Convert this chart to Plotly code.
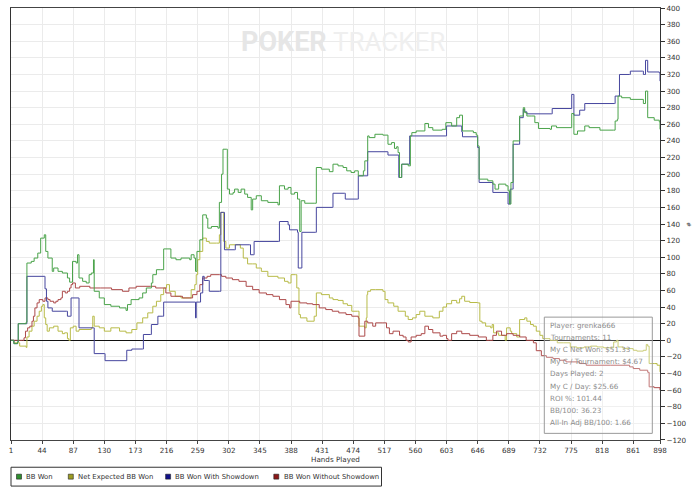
import plotly.graph_objects as go

# ---------------- data ----------------
x_ticks = [1, 44, 87, 130, 173, 216, 259, 302, 345, 388, 431, 474, 517, 560, 603,
           646, 689, 732, 775, 818, 861, 898]

green_h = [1, 5, 10, 11, 17, 22, 23, 29, 33, 38, 42, 47, 49, 52, 58, 60, 66, 72, 79, 82,
           86, 91, 93, 95, 100, 105, 109, 112, 115, 116, 123, 130, 139, 151, 160, 162, 167,
           178, 183, 188, 195, 197, 202, 208, 212, 218, 222, 229, 236, 248, 250, 254, 256,
           258, 262, 266, 271, 273, 278, 287, 289, 292, 294, 299, 300, 303, 308, 310, 315,
           319, 324, 328, 333, 335, 340, 347, 356, 370, 372, 379, 384, 388, 393, 397, 400,
           402, 407, 420, 423, 430, 441, 446, 453, 460, 465, 471, 476, 481, 488, 490, 494,
           496, 504, 515, 522, 527, 531, 534, 536, 538, 541, 550, 553, 555, 561, 573, 578,
           584, 597, 602, 610, 617, 621, 625, 640, 644, 646, 648, 660, 667, 670, 675, 685,
           688, 690, 692, 695, 702, 704, 709, 711, 714, 720, 725, 730, 746, 748, 755, 775,
           776, 779, 784, 794, 800, 815, 834, 836, 839, 840, 845, 857, 875, 878, 881, 890,
           897, 898]
green_v = [0, -4, -2, 20, 20, 22, 93, 95, 99, 105, 123, 127, 107, 99, 83, 87, 83, 81, 75, 70,
           95, 93, 103, 75, 71, 69, 79, 81, 97, 59, 51, 43, 41, 39, 36, 43, 49,
           51, 57, 63, 69, 79, 85, 85, 110, 110, 99, 97, 99, 97, 103, 99, 83,
           107, 121, 151, 147, 135, 137, 135, 166, 200, 230, 230, 182, 176, 178, 182, 178,
           182, 176, 172, 157, 170, 174, 168, 166, 163, 186, 182, 184, 176, 178, 170, 131,
           168, 165, 165, 208, 206, 203, 212, 210, 208, 204, 202, 204, 198, 204, 216, 246,
           244, 248, 247, 236, 238, 231, 233, 226, 196, 212, 210, 246, 250, 252, 261, 256,
           253, 254, 262, 258, 268, 271, 252, 250, 247, 234, 194, 192, 188, 182, 188, 186,
           180, 164, 190, 240, 240, 270, 280, 274, 270, 270, 262, 255, 254, 258, 256, 256,
           273, 248, 252, 258, 256, 253, 253, 264, 266, 294, 292, 290, 285, 300, 268, 265,
           263, 254]

yellow_h = [1, 5, 10, 13, 22, 23, 26, 30, 33, 37, 40, 43, 45, 47, 49, 51, 54, 60, 66, 72, 75,
            79, 81, 83, 87, 91, 95, 112, 114, 116, 123, 130, 139, 151, 160, 168, 175, 183,
            190, 197, 202, 208, 212, 216, 220, 228, 236, 248, 250, 255, 257, 259, 262, 266,
            271, 275, 285, 289, 291, 293, 295, 298, 303, 315, 318, 322, 328, 335, 340, 347,
            356, 370, 379, 384, 388, 394, 396, 399, 401, 410, 420, 423, 430, 441, 446, 453,
            460, 466, 472, 480, 482, 490, 492, 493, 494, 498, 505, 515, 518, 522, 530, 536,
            540, 546, 550, 556, 561, 566, 573, 584, 593, 598, 603, 610, 617, 621, 624, 628,
            635, 646, 649, 652, 657, 664, 666, 668, 675, 681, 684, 686, 691, 693, 700, 703,
            704, 711, 714, 719, 723, 727, 732, 736, 746, 756, 765, 774, 783, 793, 802, 811,
            820, 834, 838, 840, 847, 861, 866, 875, 879, 881, 883, 890, 894, 898]
yellow_v = [0, -3, -3, -7, -8.6, 4, 11, 17, 23, 29, 35, 41, 43, 27, 19, 11, 15, 17, 11, 8, 9,
            2, 0, 15, 17, 11, 13, 15, 29, 17, 15, 11, 15, 11, 9, 13, 21, 27,
            33, 41, 47, 55, 63, 67, 59, 53, 51, 51, 61, 67, 79, 97, 107, 123,
            119, 117, 117, 127, 154, 154, 119, 111, 115, 115, 111, 99, 92, 92, 87, 83,
            77, 75, 71, 69, 79, 79, 63, 31, 27, 23, 29, 57, 55, 51, 49, 48,
            44, 42, 35, 35, 17, 15, 27, 55, 59, 61, 61, 59, 49, 45, 41, 35,
            35, 29, 25, 27, 31, 35, 29, 27, 35, 40, 44, 48, 45, 50, 53, 47,
            45.5, 45, 23, 21, 17, 15, 19, 9, 6, 6, 0, 15, 11, 8, 4, 4,
            25, 27, 23, 19, 17, 11, 6, 2, 0, -3, -3, -8, -9, -8, -7, -8,
            -9, -2, 0, -8, -10, -12, -13, -12, -5, -7, -28, -28, -30, -38]

blue_h = [1, 5, 10, 11, 22, 23, 47, 48, 50, 52, 57, 58, 78, 79, 83, 84, 94, 95, 115, 116, 130,
          131, 160, 161, 168, 183, 184, 194, 195, 203, 204, 210, 212, 254, 256, 257, 262, 263,
          265, 266, 268, 274, 275, 289, 291, 295, 296, 310, 311, 331, 332, 336, 337, 371, 372,
          384, 386, 397, 398, 402, 403, 422, 423, 445, 446, 462, 463, 480, 481, 493, 494, 521,
          522, 536, 537, 540, 541, 551, 552, 602, 603, 623, 624, 625, 645, 646, 648, 666, 667,
          687, 688, 690, 691, 694, 695, 702, 704, 709, 711, 714, 748, 749, 775, 776, 778, 779,
          786, 787, 793, 794, 835, 836, 841, 842, 856, 857, 874, 875, 877, 878, 880, 881, 897,
          898]
blue_v = [0, -4, -2, 20, 20, 77, 77, 62, 47, 39, 39, 35, 35, 29, 29, 51, 51, 15, 15, -16, -16,
          -24.5, -24.5, -12, -10.5, -10.5, 7, 7, 19, 19, 29, 29, 46, 46, 27, 46, 46, 57,
          57, 77, 72, 72, 59, 59, 154, 154, 109, 109, 115, 115, 103, 103, 119, 119, 143,
          139, 133, 130, 87, 87, 130, 130, 160, 160, 177, 177, 170, 170, 198, 198, 227, 227,
          223, 223, 196, 196, 212, 212, 246, 246, 258, 258, 251, 245, 245, 232, 190, 190, 178,
          178, 164, 164, 182, 182, 236, 236, 268, 278, 275, 272.6, 272.6, 279, 279, 296, 296, 271,
          271, 277, 277, 285, 285, 294, 294, 320, 320, 324, 324, 320, 320, 337, 337, 323, 322,
          312]

red_h = [1, 17, 19, 21, 24, 27, 30, 32, 34, 37, 40, 45, 48, 52, 55, 60, 63, 66, 70, 72, 76, 79,
         82, 84, 86, 90, 96, 110, 125, 140, 155, 164, 174, 194, 201, 215, 222, 238, 247, 252,
         258, 262, 266, 272, 277, 289, 292, 298, 307, 316, 326, 335, 344, 354, 363, 372, 381,
         386, 388, 400, 410, 418, 427, 436, 445, 454, 464, 472, 481, 482, 489, 490, 494, 501,
         505, 515, 520, 524, 529, 538, 543, 547, 550, 554, 561, 568, 573, 578, 584, 594, 598,
         603, 605, 610, 617, 624, 635, 647, 658, 662, 667, 672, 679, 686, 695, 704, 713, 723,
         727, 734, 741, 750, 759, 768, 787, 796, 830, 856, 861, 870, 881, 883, 890, 898]
red_v = [0, 0, 3, 11, 15, 17, 23, 29, 39, 45, 49, 47, 51, 49, 47, 45, 47, 49, 51, 59, 57, 59,
         63, 67, 69, 63, 65, 63, 63, 61, 59, 63, 65, 65, 63, 57, 53, 51, 51, 55,
         59, 67, 75, 77, 79, 79, 77, 75, 73, 71, 65, 61, 57, 55, 53, 49, 43,
         39, 47, 45, 44, 43, 39, 37, 35, 33, 31, 29, 27, 5, 5, 23, 21, 17,
         21, 21, 15, 8, 11, 6, 4, 0, -2, 4, 6, 8, 17, 13, 9, 5, 6,
         2, 0, 8, 11, 8, 6, 4, 0, 0, 6, 11, 6, 8, 6, 4, 0, -3,
         -12.5, -18.5, -20.5, -22, -24, -26, -28, -30, -30, -32, -34, -36, -38.5, -56, -57, -60]

series_names = ["BB Won", "Net Expected BB Won", "BB Won With Showdown", "BB Won Without Showdown"]
line_colors = ["#4aa34a", "#b8bb48", "#46469e", "#ad4a4a"]
swatch_colors = ["#2f8f2f", "#9c9c22", "#10108a", "#8c1818"]

stats_lines = ["Player: grenka666", "Tournaments: 11", "My C Net Won: $51.33",
               "My C / Tournament: $4.67", "Days Played: 2", "My C / Day: $25.66",
               "ROI %: 101.44", "BB/100: 36.23", "All-In Adj BB/100: 1.66"]

y_range = [-120, 400]

# ---------------- geometry helpers ----------------
W, H = 700, 491
PL, PR, PT, PB = 11, 660, 4, 440


def px2x(px):
    return (px - PL) / (PR - PL)


def py2y(py):
    return (PB - py) / (PB - PT)


fig = go.Figure()

traces = [
    (yellow_h, yellow_v, line_colors[1]),
    (red_h, red_v, line_colors[3]),
    (blue_h, blue_v, line_colors[2]),
    (green_h, green_v, line_colors[0]),
]
for h, v, c in traces:
    fig.add_trace(go.Scatter(x=h, y=v, mode="lines",
                             line=dict(color=c, width=1, shape="hv"),
                             showlegend=False, hoverinfo="skip"))

small_font = dict(family="DejaVu Sans, Verdana, sans-serif", size=7.2, color="#333333")
legend_font = dict(family="DejaVu Sans, Verdana, sans-serif", size=6.9, color="#333333")

fig.update_layout(
    width=W, height=H,
    margin=dict(l=PL, r=W - PR, t=PT, b=H - PB, pad=0),
    paper_bgcolor="white", plot_bgcolor="white",
    showlegend=False,
    xaxis=dict(range=[1, 898], tickmode="array", tickvals=x_ticks,
               ticktext=[str(t) for t in x_ticks],
               showgrid=True, gridcolor="#ebebeb", gridwidth=1,
               showline=True, linecolor="#444444", linewidth=1, mirror=True,
               ticks="outside", ticklen=3, tickcolor="#444444",
               tickfont=small_font, zeroline=False),
    yaxis=dict(range=[y_range[0] - 0.01, y_range[1] + 0.01], side="right",
               tickmode="array", tickvals=list(range(y_range[0], y_range[1] + 1, 20)),
               showgrid=True, gridcolor="#ebebeb", gridwidth=1,
               showline=True, linecolor="#333333", linewidth=1, mirror=True,
               ticks="outside", ticklen=4, tickcolor="#333333",
               tickfont=small_font, ticklabeloverflow="allow",
               zeroline=True, zerolinecolor="#111111", zerolinewidth=1),
)

annotations = []
shapes = []

# watermark
annotations.append(dict(xref="paper", yref="paper", x=px2x(329), y=py2y(38),
                        xanchor="right", yanchor="middle", showarrow=False,
                        text="<b>POKER</b>",
                        font=dict(family="Roboto, Liberation Sans, sans-serif",
                                  size=27, color="#e6e6e6")))
annotations.append(dict(xref="paper", yref="paper", x=px2x(331), y=py2y(38),
                        xanchor="left", yanchor="middle", showarrow=False,
                        text="TRACKER",
                        font=dict(family="Roboto, Liberation Sans, sans-serif",
                                  size=26, color="#efefef")))

# axis titles
annotations.append(dict(xref="paper", yref="paper", x=px2x(335.5), y=py2y(460),
                        xanchor="center", yanchor="middle", showarrow=False,
                        text="Hands Played", font=small_font))
annotations.append(dict(xref="paper", yref="paper", x=px2x(689), y=py2y(223),
                        xanchor="center", yanchor="middle", showarrow=False,
                        text="#", textangle=-90,
                        font=dict(family="DejaVu Sans, sans-serif", size=6, color="#333333")))

# legend box
shapes.append(dict(type="rect", xref="paper", yref="paper",
                   x0=px2x(11), x1=px2x(381.5), y0=py2y(486.5), y1=py2y(467.5),
                   line=dict(color="#333333", width=1), fillcolor="rgba(0,0,0,0)"))
sw_x = [16.5, 68.3, 165.6, 273.8]
tx_x = [24, 75.7, 172.7, 281.5]
for i, name in enumerate(series_names):
    shapes.append(dict(type="rect", xref="paper", yref="paper",
                       x0=px2x(sw_x[i]), x1=px2x(sw_x[i] + 5), y0=py2y(479.5), y1=py2y(474.5),
                       line=dict(color="#222222", width=0.6), fillcolor=swatch_colors[i]))
    annotations.append(dict(xref="paper", yref="paper", x=px2x(tx_x[i]), y=py2y(477),
                            xanchor="left", yanchor="middle", showarrow=False,
                            text=name, font=legend_font))

# stats box
shapes.append(dict(type="rect", xref="paper", yref="paper",
                   x0=px2x(544.3), x1=px2x(652.3), y0=py2y(433.3), y1=py2y(316),
                   line=dict(color="#9a9a9a", width=1), fillcolor="rgba(255,255,255,0.25)"))
for i, line in enumerate(stats_lines):
    annotations.append(dict(xref="paper", yref="paper", x=px2x(547.5), y=py2y(324 + 12.33 * i),
                            xanchor="left", yanchor="middle", showarrow=False,
                            text=line,
                            font=dict(family="DejaVu Sans, Verdana, sans-serif", size=7.2,
                                      color="#8c8c8c")))

fig.update_layout(annotations=annotations, shapes=shapes)

fig.write_html("out.html")
